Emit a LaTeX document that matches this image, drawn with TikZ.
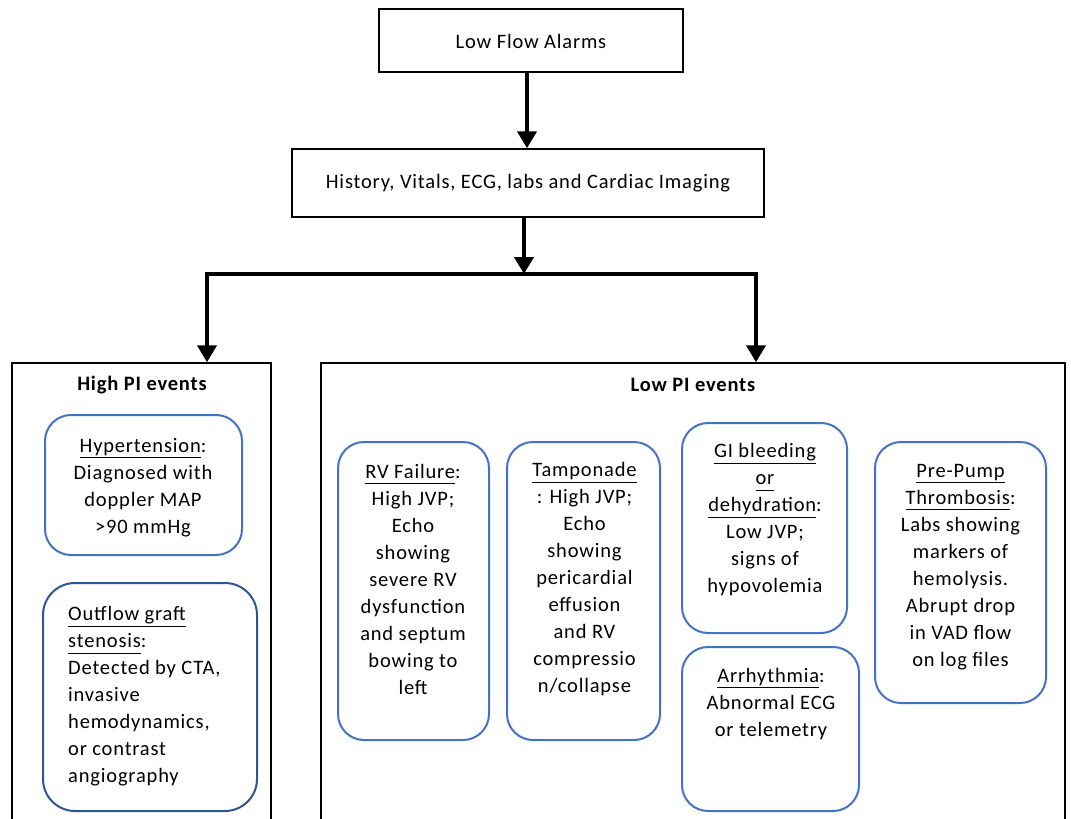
\documentclass[tikz,border=0pt]{standalone}
\usepackage{fontspec}
\setmainfont{Carlito}[LetterSpace=4]
\usetikzlibrary{arrows.meta,calc}
\definecolor{boxblue}{HTML}{4472C4}
\definecolor{darkblue}{HTML}{2F5597}
\newcommand\myul[1]{\underline{#1\vphantom{gy}}}
\newcommand\fs{\fontsize{20.5}{27}\selectfont}
\tikzset{
  blk/.style={draw=black, line width=1.5pt, inner sep=0pt},
  rbox/.style={draw=boxblue, line width=2pt, rounded corners=26pt, inner sep=0pt},
  txt/.style={font=\fs, align=center, inner sep=0pt},
  hdr/.style={font=\fs\bfseries, inner sep=0pt},
  conn/.style={line width=4.5pt},
  arr/.style={line width=4.5pt, -{Triangle[length=17pt,width=19pt]}}
}
\begin{document}
\begin{tikzpicture}[x=1pt,y=-1pt]
\useasboundingbox (0,0) rectangle (1071,819);
\clip (0,0) rectangle (1071,819);
\fill[white] (0,0) rectangle (1071,819);

% top boxes
\node[blk, minimum width=304pt, minimum height=63pt] (lfa) at (531,40.5) {};
\node[txt] (lfat) at (531,41) {Low Flow Alarms};
\node[blk, minimum width=472pt, minimum height=68pt] (hist) at (528,183) {};
\node[txt] (histt) at (528,183) {History, Vitals, ECG, labs and Cardiac Imaging};

% group boxes
\node[blk, minimum width=259pt, minimum height=480pt] (high) at (141.5,603) {};
\node[blk, minimum width=744pt, minimum height=480pt] (low) at (693,603) {};
\node[hdr] (hight) at (142,385) {High PI events};
\node[hdr] (lowt) at (693,385) {Low PI events};

% connectors
\coordinate (jM) at (524,274);
\coordinate (jL) at (207,274);
\coordinate (jR) at (756,274);
\draw[arr] (lfa.south -| 527,0) -- (hist.north -| 527,0);
\draw[arr] (hist.south -| jM) -- (jM);
\draw[conn, line cap=rect] (jL) -- (jR);
\draw[arr] (jL) -- (high.north -| jL);
\draw[arr] (jR) -- (low.north -| jR);

% high PI items
\node[rbox, minimum width=197pt, minimum height=140pt] (hyp) at (143.5,485) {};
\node[txt] (hypt) at (143,487.5) {\myul{Hypertension}:\\Diagnosed with\\doppler MAP\\>90 mmHg};
\node[rbox, draw=darkblue, rounded corners=32pt, minimum width=214pt, minimum height=228pt] (out) at (150,697) {};
\node[txt, align=left, anchor=west] (outt) at (68,696.5) {\myul{Outflow graft}\\\myul{stenosis}:\\Detected by CTA,\\invasive\\hemodynamics,\\or contrast\\angiography};

% low PI items
\node[rbox, minimum width=151pt, minimum height=298pt] (rv) at (413.5,591) {};
\node[txt] (rvt) at (413,579.5) {\myul{RV Failure}:\\High JVP;\\Echo\\showing\\severe RV\\dysfunction\\and septum\\bowing to\\left};
\node[rbox, minimum width=153pt, minimum height=298pt] (tam) at (583.5,591) {};
\node[txt] (tamt) at (584.5,579.5) {\myul{Tamponade}\\: High JVP;\\Echo\\showing\\pericardial\\effusion\\and RV\\compressio\\n/collapse};
\node[rbox, minimum width=165pt, minimum height=210pt] (gi) at (764.5,528) {};
\node[txt] (git) at (765,520) {\myul{GI bleeding}\\\myul{or}\\\myul{dehydration}:\\Low JVP;\\signs of\\hypovolemia};
\node[rbox, minimum width=177pt, minimum height=164pt] (arrh) at (770.5,729) {};
\node[txt] (arrht) at (771,704) {\myul{Arrhythmia}:\\Abnormal ECG\\or telemetry};
\node[rbox, minimum width=171pt, minimum height=261pt] (pre) at (960.5,572.5) {};
\node[txt] (pret) at (960.5,567) {\myul{Pre-Pump}\\\myul{Thrombosis}:\\Labs showing\\markers of\\hemolysis.\\Abrupt drop\\in VAD flow\\on log files};
\end{tikzpicture}
\end{document}
